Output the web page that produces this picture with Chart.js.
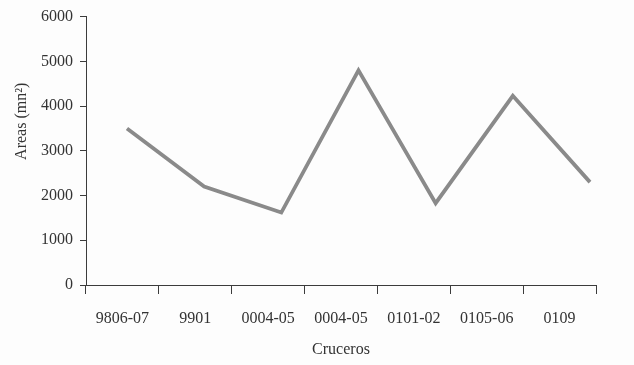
<!DOCTYPE html>
<html>
<head>
<meta charset="utf-8">
<script src="https://cdn.jsdelivr.net/npm/chart.js@4.4.1/dist/chart.umd.min.js"></script>
<style>
  html, body { margin: 0; padding: 0; background: #fdfdfd; }
  #wrap { width: 634px; height: 365px; position: relative; }
</style>
</head>
<body>
<div id="wrap"><canvas id="c"></canvas></div>
<script>
// Survey cruises and mapped area (mn²) per cruise
const cruceros = ['9806-07', '9901', '0004-05', '0004-05', '0101-02', '0105-06', '0109'];
const areas = [3500, 2200, 1620, 4800, 1830, 4230, 2300];
const yTicks = [0, 1000, 2000, 3000, 4000, 5000, 6000];

const FONT = '"Liberation Serif", "Times New Roman", serif';
const TEXT = '#333333';
const AXIS = '#3c3c3c';

// Draws the rotated y-axis caption and paints the page background
const deco = {
  id: 'deco',
  beforeDraw(chart) {
    const ctx = chart.ctx;
    ctx.save();
    ctx.fillStyle = '#fdfdfd';
    ctx.fillRect(0, 0, chart.width, chart.height);
    ctx.restore();
  },
  afterDraw(chart) {
    const ctx = chart.ctx;
    const a = chart.chartArea;
    ctx.save();
    ctx.translate(22, a.top + (a.bottom - a.top) * 0.39);
    ctx.rotate(-Math.PI / 2);
    ctx.font = '16px ' + FONT;
    ctx.fillStyle = TEXT;
    ctx.textAlign = 'center';
    ctx.textBaseline = 'middle';
    ctx.fillText('Areas (mn²)', 0, 0);
    ctx.restore();
  }
};

new Chart(document.getElementById('c'), {
  type: 'line',
  data: {
    labels: cruceros,
    datasets: [{
      data: areas.map((v, i) => ({ x: i, y: v })),
      xAxisID: 'xLine',
      borderColor: '#8a8a8a',
      borderWidth: 3.8,
      pointRadius: 0,
      tension: 0,
      fill: false
    }]
  },
  options: {
    responsive: true,
    maintainAspectRatio: false,
    animation: false,
    layout: { padding: { left: 0, right: 38, top: 16, bottom: 0 } },
    plugins: { legend: { display: false }, tooltip: { enabled: false } },
    scales: {
      x: {
        type: 'category',
        offset: true,
        border: { display: true, color: AXIS, width: 1 },
        grid: { display: true, offset: true, drawOnChartArea: false, drawTicks: true, tickLength: 9, color: AXIS },
        ticks: { color: TEXT, font: { family: FONT, size: 16 }, padding: 15, maxRotation: 0, autoSkip: false },
        title: { display: true, text: 'Cruceros', color: TEXT, font: { family: FONT, size: 16 }, padding: { top: 4, bottom: 6 } },
        afterFit(scale) { scale.height = 80; }
      },
      xLine: {
        type: 'linear',
        display: false,
        min: -0.531,
        max: 6.078
      },
      y: {
        min: 0,
        max: 6000,
        afterBuildTicks(scale) { scale.ticks = yTicks.map(v => ({ value: v })); },
        border: { display: true, color: AXIS, width: 1 },
        grid: { display: true, drawOnChartArea: false, drawTicks: true, tickLength: 6, color: AXIS },
        ticks: { color: TEXT, font: { family: FONT, size: 16 }, padding: 7, callback: (v) => String(v) },
        afterFit(scale) { scale.width = 86; }
      }
    }
  },
  plugins: [deco]
});
</script>
</body>
</html>
